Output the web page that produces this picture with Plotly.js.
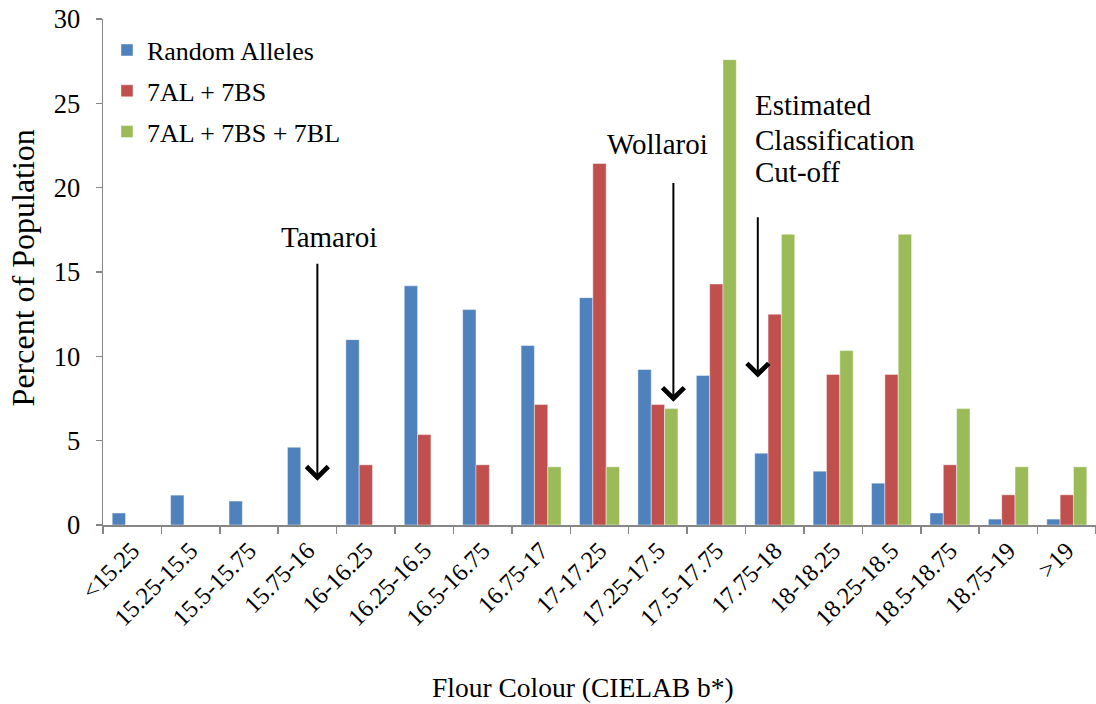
<!DOCTYPE html>
<html>
<head>
<meta charset="utf-8">
<script src="https://cdn.plot.ly/plotly-3.0.1.min.js"></script>
<style>
  html, body { margin: 0; padding: 0; background: #ffffff; }
  #chart { width: 1096px; height: 704px; }
</style>
</head>
<body>
<div id="chart"></div>
<script>
// Flour colour bins (CIELAB b*)
const bins = ['<15.25', '15.25-15.5', '15.5-15.75', '15.75-16', '16-16.25', '16.25-16.5',
  '16.5-16.75', '16.75-17', '17-17.25', '17.25-17.5', '17.5-17.75', '17.75-18',
  '18-18.25', '18.25-18.5', '18.5-18.75', '18.75-19', '>19'];

// Percent of population falling in each bin
const randomAlleles = [0.71, 1.77, 1.42, 4.61, 10.99, 14.18, 12.77, 10.64, 13.48, 9.22,
  8.87, 4.26, 3.19, 2.48, 0.71, 0.35, 0.35];
const al7AL7BS = [0, 0, 0, 0, 3.57, 5.36, 3.57, 7.14, 21.43, 7.14,
  14.29, 12.5, 8.93, 8.93, 3.57, 1.79, 1.79];
const al7AL7BS7BL = [0, 0, 0, 0, 0, 0, 0, 3.45, 3.45, 6.9,
  27.59, 17.24, 10.34, 17.24, 6.9, 3.45, 3.45];

const seriesNames = ['Random Alleles', '7AL + 7BS', '7AL + 7BS + 7BL'];
const seriesColors = ['#4F81BD', '#C0504D', '#9BBB59'];
const seriesValues = [randomAlleles, al7AL7BS, al7AL7BS7BL];

const SERIF = 'Liberation Serif';

function serifFont(size) {
  return { family: SERIF, size: size, color: '#000000' };
}

const traces = seriesValues.map((vals, i) => ({
  type: 'bar',
  name: seriesNames[i],
  x: bins,
  y: vals,
  legendgroup: 'g' + i,
  marker: { color: seriesColors[i], line: { width: 0.8, color: 'rgba(255,255,255,0.55)' } },
  hoverinfo: 'x+y+name'
}));

// Reference varieties and the classification cut-off, marked with arrows
function arrow(x, yTip, yTail) {
  return {
    xref: 'x', yref: 'y', axref: 'x', ayref: 'y',
    x: x, y: yTip, ax: x, ay: yTail,
    showarrow: true, text: '', arrowhead: 4, arrowsize: 2.1, arrowwidth: 2.0,
    arrowcolor: '#000000', standoff: 0
  };
}
function label(text, x, y, anchor) {
  return {
    xref: 'x', yref: 'y', x: x, y: y, xanchor: anchor, yanchor: 'middle',
    showarrow: false, text: text, font: serifFont(29)
  };
}

const annotations = [
  arrow(3.17, 2.62, 15.58),
  arrow(9.265, 7.30, 20.36),
  arrow(10.71, 8.74, 18.34),
  label('Tamaroi', 3.365, 17.1, 'center'),
  label('Wollaroi', 9.0, 22.56, 'center'),
  label('Estimated', 10.635, 24.88, 'left'),
  label('Classification', 10.635, 22.85, 'left'),
  label('Cut-off', 10.635, 20.93, 'left'),
  {
    xref: 'paper', yref: 'paper', x: 0.4834, y: -0.322, xanchor: 'center', yanchor: 'middle',
    showarrow: false, text: 'Flour Colour (CIELAB b*)', font: serifFont(27.5)
  },
  {
    xref: 'paper', yref: 'paper', x: -0.0806, y: 0.509, xanchor: 'center', yanchor: 'middle',
    showarrow: false, textangle: -90, text: 'Percent of Population', font: serifFont(32)
  }
];

const layout = {
  width: 1096,
  height: 704,
  margin: { l: 103, r: 0, t: 19, b: 179 },
  paper_bgcolor: '#ffffff',
  plot_bgcolor: '#ffffff',
  barmode: 'group',
  bargap: 0.315,
  bargroupgap: 0,
  font: serifFont(20),
  showlegend: true,
  legend: {
    x: 0.004, y: 0.985, xanchor: 'left', yanchor: 'top',
    bgcolor: 'rgba(0,0,0,0)', borderwidth: 0,
    font: serifFont(26),
    traceorder: 'grouped', tracegroupgap: 4
  },
  xaxis: {
    type: 'category',
    tickangle: -45,
    ticks: 'outside', tickson: 'boundaries', ticklen: 7, tickwidth: 1.5, tickcolor: '#868686',
    showline: true, linecolor: '#868686', linewidth: 1.5,
    showgrid: false, zeroline: false,
    tickfont: serifFont(24.5)
  },
  yaxis: {
    range: [0, 30], dtick: 5, tick0: 0,
    ticks: 'outside', ticklen: 6, tickwidth: 1.5, tickcolor: '#868686',
    showline: true, linecolor: '#868686', linewidth: 1.5,
    showgrid: false, zeroline: false,
    ticklabelstandoff: 10,
    tickfont: serifFont(26.5)
  },
  annotations: annotations
};

Plotly.newPlot('chart', traces, layout, { displayModeBar: false, staticPlot: true });
</script>
</body>
</html>
